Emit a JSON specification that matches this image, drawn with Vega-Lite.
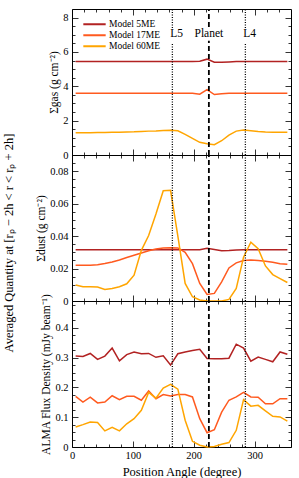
{
  "$schema": "https://vega.github.io/schema/vega-lite/v6.json",
  "padding": {"left": 2, "top": 7, "right": 2, "bottom": 2},
  "background": "white",
  "bounds": "flush",
  "title": {"text": "Averaged Quantity at [rₚ − 2h < r < rₚ + 2h]", "orient": "left", "anchor": "middle", "font": "Liberation Serif", "fontSize": 12.5, "fontWeight": "normal", "color": "#000", "offset": 20},
  "config": {
    "view": {"stroke": "#000", "strokeWidth": 1},
    "axis": {"labelFont": "Liberation Serif", "labelFontSize": 10.5, "titleFont": "Liberation Serif", "titleFontSize": 11.5, "titleFontWeight": "normal", "tickColor": "#000", "labelColor": "#000", "titleColor": "#000", "domain": false, "grid": false, "labelOverlap": false, "labelFlush": false, "tickWidth": 0.8},
    "legend": {"labelFont": "Liberation Serif", "labelFontSize": 9.5, "labelColor": "#000"}
  },
  "datasets": {
    "gas": [
      {"angle": 6, "model": "Model 5ME", "value": 5.45}, {"angle": 18, "model": "Model 5ME", "value": 5.45}, {"angle": 30, "model": "Model 5ME", "value": 5.45}, {"angle": 42, "model": "Model 5ME", "value": 5.45}, {"angle": 54, "model": "Model 5ME", "value": 5.45}, {"angle": 66, "model": "Model 5ME", "value": 5.45}, {"angle": 78, "model": "Model 5ME", "value": 5.45}, {"angle": 90, "model": "Model 5ME", "value": 5.45}, {"angle": 102, "model": "Model 5ME", "value": 5.45}, {"angle": 114, "model": "Model 5ME", "value": 5.45}, {"angle": 126, "model": "Model 5ME", "value": 5.45}, {"angle": 138, "model": "Model 5ME", "value": 5.45}, {"angle": 150, "model": "Model 5ME", "value": 5.45}, {"angle": 162, "model": "Model 5ME", "value": 5.45}, {"angle": 174, "model": "Model 5ME", "value": 5.45}, {"angle": 186, "model": "Model 5ME", "value": 5.45}, {"angle": 198, "model": "Model 5ME", "value": 5.45}, {"angle": 210, "model": "Model 5ME", "value": 5.46}, {"angle": 222, "model": "Model 5ME", "value": 5.58}, {"angle": 234, "model": "Model 5ME", "value": 5.4}, {"angle": 246, "model": "Model 5ME", "value": 5.4}, {"angle": 258, "model": "Model 5ME", "value": 5.42}, {"angle": 270, "model": "Model 5ME", "value": 5.44}, {"angle": 282, "model": "Model 5ME", "value": 5.45}, {"angle": 294, "model": "Model 5ME", "value": 5.45}, {"angle": 306, "model": "Model 5ME", "value": 5.45}, {"angle": 318, "model": "Model 5ME", "value": 5.45}, {"angle": 330, "model": "Model 5ME", "value": 5.45}, {"angle": 342, "model": "Model 5ME", "value": 5.45}, {"angle": 354, "model": "Model 5ME", "value": 5.45},
      {"angle": 6, "model": "Model 17ME", "value": 3.6}, {"angle": 18, "model": "Model 17ME", "value": 3.6}, {"angle": 30, "model": "Model 17ME", "value": 3.6}, {"angle": 42, "model": "Model 17ME", "value": 3.6}, {"angle": 54, "model": "Model 17ME", "value": 3.6}, {"angle": 66, "model": "Model 17ME", "value": 3.6}, {"angle": 78, "model": "Model 17ME", "value": 3.6}, {"angle": 90, "model": "Model 17ME", "value": 3.6}, {"angle": 102, "model": "Model 17ME", "value": 3.6}, {"angle": 114, "model": "Model 17ME", "value": 3.6}, {"angle": 126, "model": "Model 17ME", "value": 3.6}, {"angle": 138, "model": "Model 17ME", "value": 3.6}, {"angle": 150, "model": "Model 17ME", "value": 3.6}, {"angle": 162, "model": "Model 17ME", "value": 3.6}, {"angle": 174, "model": "Model 17ME", "value": 3.6}, {"angle": 186, "model": "Model 17ME", "value": 3.6}, {"angle": 198, "model": "Model 17ME", "value": 3.6}, {"angle": 210, "model": "Model 17ME", "value": 3.54}, {"angle": 222, "model": "Model 17ME", "value": 3.8}, {"angle": 234, "model": "Model 17ME", "value": 3.52}, {"angle": 246, "model": "Model 17ME", "value": 3.56}, {"angle": 258, "model": "Model 17ME", "value": 3.59}, {"angle": 270, "model": "Model 17ME", "value": 3.6}, {"angle": 282, "model": "Model 17ME", "value": 3.6}, {"angle": 294, "model": "Model 17ME", "value": 3.6}, {"angle": 306, "model": "Model 17ME", "value": 3.6}, {"angle": 318, "model": "Model 17ME", "value": 3.6}, {"angle": 330, "model": "Model 17ME", "value": 3.6}, {"angle": 342, "model": "Model 17ME", "value": 3.6}, {"angle": 354, "model": "Model 17ME", "value": 3.6},
      {"angle": 6, "model": "Model 60ME", "value": 1.3}, {"angle": 18, "model": "Model 60ME", "value": 1.3}, {"angle": 30, "model": "Model 60ME", "value": 1.3}, {"angle": 42, "model": "Model 60ME", "value": 1.31}, {"angle": 54, "model": "Model 60ME", "value": 1.31}, {"angle": 66, "model": "Model 60ME", "value": 1.32}, {"angle": 78, "model": "Model 60ME", "value": 1.33}, {"angle": 90, "model": "Model 60ME", "value": 1.34}, {"angle": 102, "model": "Model 60ME", "value": 1.35}, {"angle": 114, "model": "Model 60ME", "value": 1.37}, {"angle": 126, "model": "Model 60ME", "value": 1.39}, {"angle": 138, "model": "Model 60ME", "value": 1.4}, {"angle": 150, "model": "Model 60ME", "value": 1.42}, {"angle": 162, "model": "Model 60ME", "value": 1.44}, {"angle": 174, "model": "Model 60ME", "value": 1.41}, {"angle": 186, "model": "Model 60ME", "value": 1.2}, {"angle": 198, "model": "Model 60ME", "value": 0.97}, {"angle": 210, "model": "Model 60ME", "value": 0.74}, {"angle": 222, "model": "Model 60ME", "value": 0.66}, {"angle": 234, "model": "Model 60ME", "value": 0.6}, {"angle": 246, "model": "Model 60ME", "value": 0.83}, {"angle": 258, "model": "Model 60ME", "value": 1.16}, {"angle": 270, "model": "Model 60ME", "value": 1.39}, {"angle": 282, "model": "Model 60ME", "value": 1.45}, {"angle": 294, "model": "Model 60ME", "value": 1.41}, {"angle": 306, "model": "Model 60ME", "value": 1.37}, {"angle": 318, "model": "Model 60ME", "value": 1.34}, {"angle": 330, "model": "Model 60ME", "value": 1.33}, {"angle": 342, "model": "Model 60ME", "value": 1.33}, {"angle": 354, "model": "Model 60ME", "value": 1.33}
    ],
    "dust": [
      {"angle": 6, "model": "Model 5ME", "value": 0.0316}, {"angle": 18, "model": "Model 5ME", "value": 0.0316}, {"angle": 30, "model": "Model 5ME", "value": 0.0316}, {"angle": 42, "model": "Model 5ME", "value": 0.0316}, {"angle": 54, "model": "Model 5ME", "value": 0.0316}, {"angle": 66, "model": "Model 5ME", "value": 0.0316}, {"angle": 78, "model": "Model 5ME", "value": 0.0316}, {"angle": 90, "model": "Model 5ME", "value": 0.0316}, {"angle": 102, "model": "Model 5ME", "value": 0.0316}, {"angle": 114, "model": "Model 5ME", "value": 0.0316}, {"angle": 126, "model": "Model 5ME", "value": 0.0316}, {"angle": 138, "model": "Model 5ME", "value": 0.0316}, {"angle": 150, "model": "Model 5ME", "value": 0.0316}, {"angle": 162, "model": "Model 5ME", "value": 0.0316}, {"angle": 174, "model": "Model 5ME", "value": 0.0316}, {"angle": 186, "model": "Model 5ME", "value": 0.0316}, {"angle": 198, "model": "Model 5ME", "value": 0.0316}, {"angle": 210, "model": "Model 5ME", "value": 0.0316}, {"angle": 222, "model": "Model 5ME", "value": 0.0325}, {"angle": 234, "model": "Model 5ME", "value": 0.0318}, {"angle": 246, "model": "Model 5ME", "value": 0.031}, {"angle": 258, "model": "Model 5ME", "value": 0.0312}, {"angle": 270, "model": "Model 5ME", "value": 0.0315}, {"angle": 282, "model": "Model 5ME", "value": 0.0316}, {"angle": 294, "model": "Model 5ME", "value": 0.0316}, {"angle": 306, "model": "Model 5ME", "value": 0.0316}, {"angle": 318, "model": "Model 5ME", "value": 0.0316}, {"angle": 330, "model": "Model 5ME", "value": 0.0316}, {"angle": 342, "model": "Model 5ME", "value": 0.0316}, {"angle": 354, "model": "Model 5ME", "value": 0.0316},
      {"angle": 6, "model": "Model 17ME", "value": 0.022}, {"angle": 18, "model": "Model 17ME", "value": 0.022}, {"angle": 30, "model": "Model 17ME", "value": 0.022}, {"angle": 42, "model": "Model 17ME", "value": 0.0223}, {"angle": 54, "model": "Model 17ME", "value": 0.0231}, {"angle": 66, "model": "Model 17ME", "value": 0.0241}, {"angle": 78, "model": "Model 17ME", "value": 0.0253}, {"angle": 90, "model": "Model 17ME", "value": 0.0268}, {"angle": 102, "model": "Model 17ME", "value": 0.0282}, {"angle": 114, "model": "Model 17ME", "value": 0.0296}, {"angle": 126, "model": "Model 17ME", "value": 0.031}, {"angle": 138, "model": "Model 17ME", "value": 0.032}, {"angle": 150, "model": "Model 17ME", "value": 0.0327}, {"angle": 162, "model": "Model 17ME", "value": 0.0328}, {"angle": 174, "model": "Model 17ME", "value": 0.0327}, {"angle": 186, "model": "Model 17ME", "value": 0.03}, {"angle": 198, "model": "Model 17ME", "value": 0.023}, {"angle": 210, "model": "Model 17ME", "value": 0.0108}, {"angle": 222, "model": "Model 17ME", "value": 0.004}, {"angle": 234, "model": "Model 17ME", "value": 0.0047}, {"angle": 246, "model": "Model 17ME", "value": 0.0118}, {"angle": 258, "model": "Model 17ME", "value": 0.0204}, {"angle": 270, "model": "Model 17ME", "value": 0.0235}, {"angle": 282, "model": "Model 17ME", "value": 0.0249}, {"angle": 294, "model": "Model 17ME", "value": 0.0253}, {"angle": 306, "model": "Model 17ME", "value": 0.0249}, {"angle": 318, "model": "Model 17ME", "value": 0.0245}, {"angle": 330, "model": "Model 17ME", "value": 0.0239}, {"angle": 342, "model": "Model 17ME", "value": 0.023}, {"angle": 354, "model": "Model 17ME", "value": 0.0226},
      {"angle": 6, "model": "Model 60ME", "value": 0.0098}, {"angle": 18, "model": "Model 60ME", "value": 0.0088}, {"angle": 30, "model": "Model 60ME", "value": 0.0088}, {"angle": 42, "model": "Model 60ME", "value": 0.0086}, {"angle": 54, "model": "Model 60ME", "value": 0.0071}, {"angle": 66, "model": "Model 60ME", "value": 0.0077}, {"angle": 78, "model": "Model 60ME", "value": 0.0088}, {"angle": 90, "model": "Model 60ME", "value": 0.0106}, {"angle": 102, "model": "Model 60ME", "value": 0.0159}, {"angle": 114, "model": "Model 60ME", "value": 0.0312}, {"angle": 126, "model": "Model 60ME", "value": 0.0404}, {"angle": 138, "model": "Model 60ME", "value": 0.0536}, {"angle": 150, "model": "Model 60ME", "value": 0.068}, {"angle": 162, "model": "Model 60ME", "value": 0.0682}, {"angle": 174, "model": "Model 60ME", "value": 0.04}, {"angle": 186, "model": "Model 60ME", "value": 0.0108}, {"angle": 198, "model": "Model 60ME", "value": 0.0026}, {"angle": 210, "model": "Model 60ME", "value": 0.0006}, {"angle": 222, "model": "Model 60ME", "value": 0}, {"angle": 234, "model": "Model 60ME", "value": 0}, {"angle": 246, "model": "Model 60ME", "value": 0}, {"angle": 258, "model": "Model 60ME", "value": 0.001}, {"angle": 270, "model": "Model 60ME", "value": 0.0077}, {"angle": 282, "model": "Model 60ME", "value": 0.027}, {"angle": 294, "model": "Model 60ME", "value": 0.0363}, {"angle": 306, "model": "Model 60ME", "value": 0.0322}, {"angle": 318, "model": "Model 60ME", "value": 0.0216}, {"angle": 330, "model": "Model 60ME", "value": 0.0163}, {"angle": 342, "model": "Model 60ME", "value": 0.0138}, {"angle": 354, "model": "Model 60ME", "value": 0.0114}
    ],
    "flux": [
      {"angle": 6, "model": "Model 5ME", "value": 0.305}, {"angle": 18, "model": "Model 5ME", "value": 0.304}, {"angle": 30, "model": "Model 5ME", "value": 0.314}, {"angle": 42, "model": "Model 5ME", "value": 0.294}, {"angle": 54, "model": "Model 5ME", "value": 0.305}, {"angle": 66, "model": "Model 5ME", "value": 0.332}, {"angle": 78, "model": "Model 5ME", "value": 0.289}, {"angle": 90, "model": "Model 5ME", "value": 0.31}, {"angle": 102, "model": "Model 5ME", "value": 0.319}, {"angle": 114, "model": "Model 5ME", "value": 0.313}, {"angle": 126, "model": "Model 5ME", "value": 0.314}, {"angle": 138, "model": "Model 5ME", "value": 0.301}, {"angle": 150, "model": "Model 5ME", "value": 0.306}, {"angle": 162, "model": "Model 5ME", "value": 0.275}, {"angle": 174, "model": "Model 5ME", "value": 0.313}, {"angle": 186, "model": "Model 5ME", "value": 0.319}, {"angle": 198, "model": "Model 5ME", "value": 0.324}, {"angle": 210, "model": "Model 5ME", "value": 0.328}, {"angle": 222, "model": "Model 5ME", "value": 0.297}, {"angle": 234, "model": "Model 5ME", "value": 0.296}, {"angle": 246, "model": "Model 5ME", "value": 0.296}, {"angle": 258, "model": "Model 5ME", "value": 0.298}, {"angle": 270, "model": "Model 5ME", "value": 0.345}, {"angle": 282, "model": "Model 5ME", "value": 0.332}, {"angle": 294, "model": "Model 5ME", "value": 0.288}, {"angle": 306, "model": "Model 5ME", "value": 0.302}, {"angle": 318, "model": "Model 5ME", "value": 0.294}, {"angle": 330, "model": "Model 5ME", "value": 0.286}, {"angle": 342, "model": "Model 5ME", "value": 0.319}, {"angle": 354, "model": "Model 5ME", "value": 0.311},
      {"angle": 6, "model": "Model 17ME", "value": 0.17}, {"angle": 18, "model": "Model 17ME", "value": 0.151}, {"angle": 30, "model": "Model 17ME", "value": 0.167}, {"angle": 42, "model": "Model 17ME", "value": 0.148}, {"angle": 54, "model": "Model 17ME", "value": 0.151}, {"angle": 66, "model": "Model 17ME", "value": 0.172}, {"angle": 78, "model": "Model 17ME", "value": 0.159}, {"angle": 90, "model": "Model 17ME", "value": 0.17}, {"angle": 102, "model": "Model 17ME", "value": 0.17}, {"angle": 114, "model": "Model 17ME", "value": 0.157}, {"angle": 126, "model": "Model 17ME", "value": 0.188}, {"angle": 138, "model": "Model 17ME", "value": 0.162}, {"angle": 150, "model": "Model 17ME", "value": 0.176}, {"angle": 162, "model": "Model 17ME", "value": 0.171}, {"angle": 174, "model": "Model 17ME", "value": 0.176}, {"angle": 186, "model": "Model 17ME", "value": 0.176}, {"angle": 198, "model": "Model 17ME", "value": 0.168}, {"angle": 210, "model": "Model 17ME", "value": 0.095}, {"angle": 222, "model": "Model 17ME", "value": 0.048}, {"angle": 234, "model": "Model 17ME", "value": 0.058}, {"angle": 246, "model": "Model 17ME", "value": 0.117}, {"angle": 258, "model": "Model 17ME", "value": 0.157}, {"angle": 270, "model": "Model 17ME", "value": 0.168}, {"angle": 282, "model": "Model 17ME", "value": 0.183}, {"angle": 294, "model": "Model 17ME", "value": 0.168}, {"angle": 306, "model": "Model 17ME", "value": 0.167}, {"angle": 318, "model": "Model 17ME", "value": 0.145}, {"angle": 330, "model": "Model 17ME", "value": 0.145}, {"angle": 342, "model": "Model 17ME", "value": 0.162}, {"angle": 354, "model": "Model 17ME", "value": 0.162},
      {"angle": 6, "model": "Model 60ME", "value": 0.067}, {"angle": 18, "model": "Model 60ME", "value": 0.075}, {"angle": 30, "model": "Model 60ME", "value": 0.084}, {"angle": 42, "model": "Model 60ME", "value": 0.082}, {"angle": 54, "model": "Model 60ME", "value": 0.054}, {"angle": 66, "model": "Model 60ME", "value": 0.066}, {"angle": 78, "model": "Model 60ME", "value": 0.054}, {"angle": 90, "model": "Model 60ME", "value": 0.078}, {"angle": 102, "model": "Model 60ME", "value": 0.095}, {"angle": 114, "model": "Model 60ME", "value": 0.123}, {"angle": 126, "model": "Model 60ME", "value": 0.183}, {"angle": 138, "model": "Model 60ME", "value": 0.164}, {"angle": 150, "model": "Model 60ME", "value": 0.198}, {"angle": 162, "model": "Model 60ME", "value": 0.21}, {"angle": 174, "model": "Model 60ME", "value": 0.194}, {"angle": 186, "model": "Model 60ME", "value": 0.09}, {"angle": 198, "model": "Model 60ME", "value": 0.019}, {"angle": 210, "model": "Model 60ME", "value": 0.006}, {"angle": 222, "model": "Model 60ME", "value": 0}, {"angle": 234, "model": "Model 60ME", "value": 0.002}, {"angle": 246, "model": "Model 60ME", "value": 0.009}, {"angle": 258, "model": "Model 60ME", "value": 0.015}, {"angle": 270, "model": "Model 60ME", "value": 0.056}, {"angle": 282, "model": "Model 60ME", "value": 0.159}, {"angle": 294, "model": "Model 60ME", "value": 0.137}, {"angle": 306, "model": "Model 60ME", "value": 0.14}, {"angle": 318, "model": "Model 60ME", "value": 0.121}, {"angle": 330, "model": "Model 60ME", "value": 0.103}, {"angle": 342, "model": "Model 60ME", "value": 0.101}, {"angle": 354, "model": "Model 60ME", "value": 0.087}
    ],
    "vlines": [
      {"angle": 165, "kind": "dotted"}, {"angle": 225, "kind": "dashed"}, {"angle": 285, "kind": "dotted"}
    ],
    "vseg": [
      {"angle": 165, "kind": "dotted", "y0": 0, "y1": 6.5}, {"angle": 165, "kind": "dotted", "y0": 7.4, "y1": 8.5},
      {"angle": 225, "kind": "dashed", "y0": 0, "y1": 6.65}, {"angle": 225, "kind": "dashed", "y0": 7.45, "y1": 8.5},
      {"angle": 285, "kind": "dotted", "y0": 0, "y1": 6.5}, {"angle": 285, "kind": "dotted", "y0": 7.4, "y1": 8.5}
    ],
    "labels": [
      {"angle": 172, "y": 7.02, "text": "L5"}, {"angle": 225, "y": 7.02, "text": "Planet"}, {"angle": 292, "y": 7.02, "text": "L4"}
    ]
  },
  "vconcat": [
    {
      "width": 219, "height": 146,
      "layer": [
        {
          "data": {"name": "gas"},
          "mark": {"type": "line", "strokeWidth": 1.5},
          "encoding": {
            "x": {"field": "angle", "type": "quantitative", "scale": {"domain": [0, 360], "nice": false}, "axis": {"orient": "bottom", "labels": false, "title": null, "values": [0,20,40,60,80,100,120,140,160,180,200,220,240,260,280,300,320,340], "tickSize": {"condition": {"test": "datum.value % 100 === 0", "value": -6}, "value": -3}}},
            "y": {"field": "value", "type": "quantitative", "scale": {"domain": [0, 8.5], "nice": false}, "axis": {"orient": "left", "title": "Σgas (g cm⁻²)", "values": [0,0.5,1,1.5,2,2.5,3,3.5,4,4.5,5,5.5,6,6.5,7,7.5,8], "labelExpr": "datum.value % 2 === 0 ? format(datum.value, 'd') : ''", "tickSize": {"condition": {"test": "datum.value % 2 === 0", "value": -6}, "value": -3}, "labelPadding": 10, "titlePadding": 3}},
            "color": {"field": "model", "type": "nominal", "scale": {"domain": ["Model 5ME", "Model 17ME", "Model 60ME"], "range": ["#B22222", "#FF5A1F", "#FFA500"]}, "legend": {"orient": "top-left", "title": null, "symbolType": "stroke", "symbolStrokeWidth": 2, "symbolSize": 500, "clipHeight": 10.5, "offset": 10, "padding": 0, "rowPadding": 0, "labelOffset": 2}}
          }
        },
        {
          "data": {"name": "vseg"},
          "mark": {"type": "rule", "color": "#000"},
          "encoding": {
            "x": {"field": "angle", "type": "quantitative", "axis": {"orient": "top", "labels": false, "title": null, "values": [0,20,40,60,80,100,120,140,160,180,200,220,240,260,280,300,320,340], "tickSize": {"condition": {"test": "datum.value % 100 === 0", "value": -6}, "value": -3}}},
            "y": {"field": "y0", "type": "quantitative", "axis": {"orient": "right", "labels": false, "title": null, "values": [0,0.5,1,1.5,2,2.5,3,3.5,4,4.5,5,5.5,6,6.5,7,7.5,8], "tickSize": {"condition": {"test": "datum.value % 2 === 0", "value": -6}, "value": -3}}},
            "y2": {"field": "y1"},
            "strokeDash": {"field": "kind", "type": "nominal", "scale": {"domain": ["dotted", "dashed"], "range": [[1, 1.5], [5, 3]]}, "legend": null},
            "strokeWidth": {"field": "kind", "type": "nominal", "scale": {"domain": ["dotted", "dashed"], "range": [1.3, 1.8]}, "legend": null}
          }
        },
        {
          "data": {"name": "labels"},
          "mark": {"type": "text", "font": "Liberation Serif", "fontSize": 11.5, "color": "#000", "align": "center", "baseline": "middle"},
          "encoding": {
            "x": {"field": "angle", "type": "quantitative", "axis": null},
            "y": {"field": "y", "type": "quantitative", "axis": null},
            "text": {"field": "text"}
          }
        }
      ],
      "resolve": {"axis": {"x": "independent", "y": "independent"}}
    },
    {
      "width": 219, "height": 146,
      "layer": [
        {
          "data": {"name": "dust"},
          "mark": {"type": "line", "strokeWidth": 1.5},
          "encoding": {
            "x": {"field": "angle", "type": "quantitative", "scale": {"domain": [0, 360], "nice": false}, "axis": {"orient": "bottom", "labels": false, "title": null, "values": [0,20,40,60,80,100,120,140,160,180,200,220,240,260,280,300,320,340], "tickSize": {"condition": {"test": "datum.value % 100 === 0", "value": -6}, "value": -3}}},
            "y": {"field": "value", "type": "quantitative", "scale": {"domain": [0, 0.09], "nice": false}, "axis": {"orient": "left", "title": "Σdust (g cm⁻²)", "values": [0,0.005,0.01,0.015,0.02,0.025,0.03,0.035,0.04,0.045,0.05,0.055,0.06,0.065,0.07,0.075,0.08,0.085], "labelExpr": "abs(datum.value*50 - round(datum.value*50)) < 0.001 ? (datum.value === 0 ? '0' : format(datum.value, '.2f')) : ''", "tickSize": {"condition": {"test": "abs(datum.value*50 - round(datum.value*50)) < 0.001", "value": -6}, "value": -3}, "labelPadding": 10, "titlePadding": 3}},
            "color": {"field": "model", "type": "nominal", "scale": {"domain": ["Model 5ME", "Model 17ME", "Model 60ME"], "range": ["#B22222", "#FF5A1F", "#FFA500"]}, "legend": null}
          }
        },
        {
          "data": {"name": "vlines"},
          "mark": {"type": "rule", "color": "#000"},
          "encoding": {
            "x": {"field": "angle", "type": "quantitative", "axis": {"orient": "top", "labels": false, "title": null, "values": [0,20,40,60,80,100,120,140,160,180,200,220,240,260,280,300,320,340], "tickSize": {"condition": {"test": "datum.value % 100 === 0", "value": -6}, "value": -3}}},
            "y": {"datum": 0, "type": "quantitative", "axis": {"orient": "right", "labels": false, "title": null, "values": [0,0.005,0.01,0.015,0.02,0.025,0.03,0.035,0.04,0.045,0.05,0.055,0.06,0.065,0.07,0.075,0.08,0.085], "tickSize": {"condition": {"test": "abs(datum.value*50 - round(datum.value*50)) < 0.001", "value": -6}, "value": -3}}},
            "y2": {"datum": 0.09},
            "strokeDash": {"field": "kind", "type": "nominal", "scale": {"domain": ["dotted", "dashed"], "range": [[1, 1.5], [5, 3]]}, "legend": null},
            "strokeWidth": {"field": "kind", "type": "nominal", "scale": {"domain": ["dotted", "dashed"], "range": [1.3, 1.8]}, "legend": null}
          }
        }
      ],
      "resolve": {"axis": {"x": "independent", "y": "independent"}}
    },
    {
      "width": 219, "height": 146,
      "layer": [
        {
          "data": {"name": "flux"},
          "mark": {"type": "line", "strokeWidth": 1.5},
          "encoding": {
            "x": {"field": "angle", "type": "quantitative", "scale": {"domain": [0, 360], "nice": false}, "axis": {"orient": "bottom", "title": "Position Angle (degree)", "titleFontSize": 12.5, "titlePadding": 2, "values": [0,20,40,60,80,100,120,140,160,180,200,220,240,260,280,300,320,340], "labelExpr": "datum.value % 100 === 0 ? format(datum.value, 'd') : ''", "tickSize": {"condition": {"test": "datum.value % 100 === 0", "value": -6}, "value": -3}, "labelPadding": 9}},
            "y": {"field": "value", "type": "quantitative", "scale": {"domain": [0, 0.49], "nice": false}, "axis": {"orient": "left", "title": "ALMA Flux Density (mJy beam⁻¹)", "values": [0,0.025,0.05,0.075,0.1,0.125,0.15,0.175,0.2,0.225,0.25,0.275,0.3,0.325,0.35,0.375,0.4,0.425,0.45,0.475], "labelExpr": "abs(datum.value*10 - round(datum.value*10)) < 0.001 ? (datum.value === 0 ? '0' : format(datum.value, '.1f')) : ''", "tickSize": {"condition": {"test": "abs(datum.value*10 - round(datum.value*10)) < 0.001", "value": -6}, "value": -3}, "labelPadding": 10, "titlePadding": 3}},
            "color": {"field": "model", "type": "nominal", "scale": {"domain": ["Model 5ME", "Model 17ME", "Model 60ME"], "range": ["#B22222", "#FF5A1F", "#FFA500"]}, "legend": null}
          }
        },
        {
          "data": {"name": "vlines"},
          "mark": {"type": "rule", "color": "#000"},
          "encoding": {
            "x": {"field": "angle", "type": "quantitative", "axis": {"orient": "top", "labels": false, "title": null, "values": [0,20,40,60,80,100,120,140,160,180,200,220,240,260,280,300,320,340], "tickSize": {"condition": {"test": "datum.value % 100 === 0", "value": -6}, "value": -3}}},
            "y": {"datum": 0, "type": "quantitative", "axis": {"orient": "right", "labels": false, "title": null, "values": [0,0.025,0.05,0.075,0.1,0.125,0.15,0.175,0.2,0.225,0.25,0.275,0.3,0.325,0.35,0.375,0.4,0.425,0.45,0.475], "tickSize": {"condition": {"test": "abs(datum.value*10 - round(datum.value*10)) < 0.001", "value": -6}, "value": -3}}},
            "y2": {"datum": 0.49},
            "strokeDash": {"field": "kind", "type": "nominal", "scale": {"domain": ["dotted", "dashed"], "range": [[1, 1.5], [5, 3]]}, "legend": null},
            "strokeWidth": {"field": "kind", "type": "nominal", "scale": {"domain": ["dotted", "dashed"], "range": [1.3, 1.8]}, "legend": null}
          }
        }
      ],
      "resolve": {"axis": {"x": "independent", "y": "independent"}}
    }
  ],
  "spacing": 0,
  "resolve": {"legend": {"color": "independent"}, "scale": {"y": "independent"}}
}
